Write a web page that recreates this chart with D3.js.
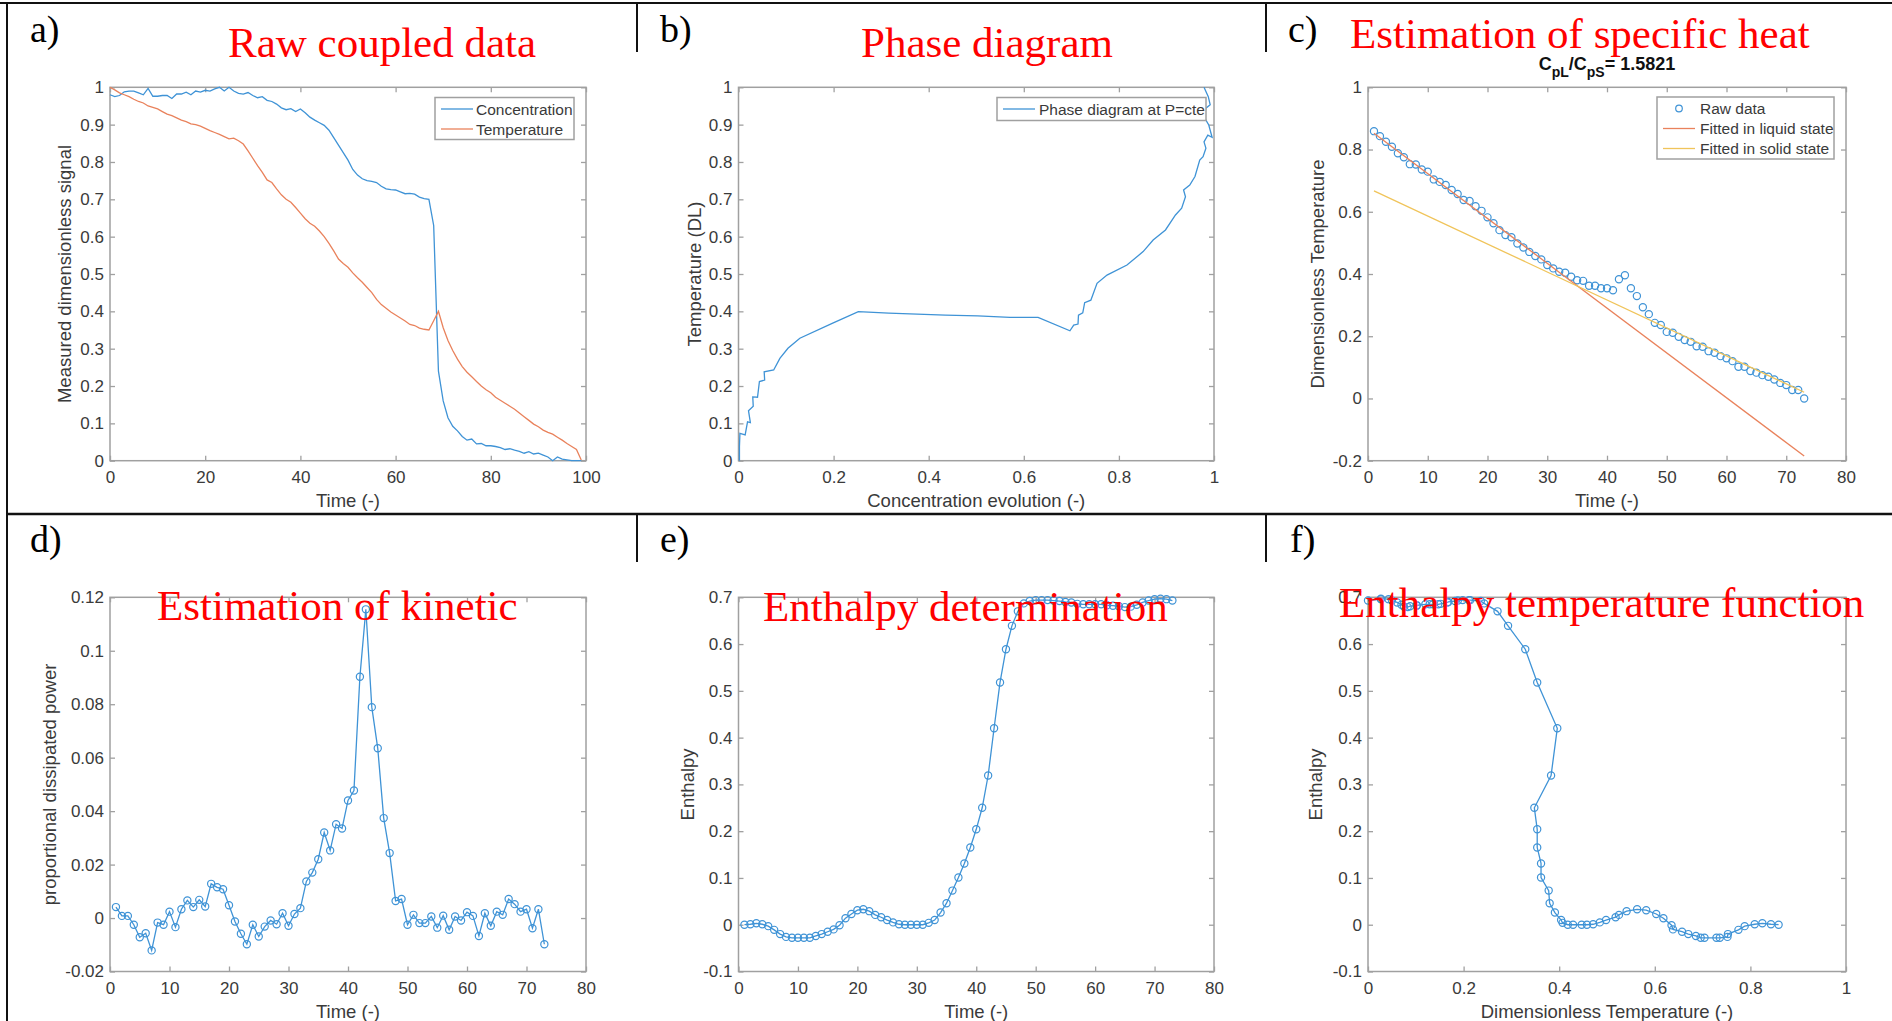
<!DOCTYPE html>
<html><head><meta charset="utf-8">
<script src="https://cdn.jsdelivr.net/npm/d3@7"></script>
<style>body{margin:0;background:#fff}svg{display:block}</style>
</head><body><svg id="chart" width="1892" height="1021"></svg>
<script>
// ---------- DATA ----------
const timeA = [0,1,2,3,4,5,6,7,8,9,10,11,12,13,14,15,16,17,18,19,20,21,22,23,24,25,26,27,28,29,30,31,32,33,34,35,36,37,38,39,40,41,42,43,44,45,46,47,48,49,50,51,52,53,54,55,56,57,58,59,60,61,62,63,64,65,66,67,68,69,70,71,72,73,74,75,76,77,78,79,80,81,82,83,84,85,86,87,88,89,90,91,92,93,94,95,96,97,98,99];
const concentration = [0.980,0.975,0.978,0.988,0.990,0.990,0.985,0.980,0.997,0.976,
 0.976,0.978,0.978,0.970,0.982,0.982,0.987,0.980,0.990,0.987,
 0.992,0.990,0.996,1.000,0.990,1.000,0.990,0.984,0.982,0.986,
 0.978,0.972,0.975,0.965,0.962,0.955,0.945,0.940,0.943,0.935,
 0.942,0.932,0.920,0.912,0.905,0.898,0.885,0.865,0.845,0.825,
 0.805,0.780,0.765,0.755,0.750,0.748,0.745,0.735,0.728,0.726,
 0.725,0.720,0.715,0.716,0.714,0.706,0.702,0.700,0.630,0.240,
 0.160,0.115,0.092,0.080,0.065,0.055,0.058,0.045,0.046,0.040,
 0.040,0.038,0.035,0.030,0.032,0.028,0.025,0.020,0.024,0.018,
 0.020,0.015,0.010,0.000,0.010,0.004,0.002,0.000,0.000,0.000];
const temperature = [1.000,0.993,0.985,0.980,0.975,0.968,0.962,0.958,0.950,0.946,
 0.942,0.935,0.928,0.924,0.918,0.912,0.908,0.902,0.900,0.896,
 0.890,0.884,0.879,0.874,0.868,0.862,0.864,0.857,0.848,0.830,
 0.810,0.790,0.772,0.752,0.745,0.728,0.712,0.700,0.692,0.678,
 0.663,0.648,0.636,0.628,0.615,0.600,0.582,0.562,0.540,0.528,
 0.518,0.503,0.490,0.478,0.464,0.450,0.432,0.418,0.408,0.398,
 0.390,0.382,0.374,0.365,0.362,0.355,0.352,0.350,0.375,0.400,
 0.356,0.322,0.295,0.272,0.252,0.237,0.225,0.212,0.200,0.190,
 0.182,0.170,0.162,0.154,0.146,0.138,0.128,0.118,0.108,0.098,
 0.091,0.082,0.076,0.071,0.063,0.055,0.046,0.038,0.030,0.002];

const phaseConc = [0.002,0.002,0.003,0.014,0.019,0.025,0.021,0.031,0.030,0.040,0.044,0.055,0.054,0.074,0.087,0.104,0.129,0.197,0.252,0.316,0.435,0.503,0.571,0.630,0.697,0.705,0.714,0.715,0.724,0.728,0.741,0.754,0.775,0.817,0.851,0.872,0.898,0.919,0.932,0.940,0.936,0.949,0.960,0.970,0.977,0.983,0.979,0.987,0.996,0.989,0.979,0.983,0.992,0.988,0.979];
const phaseTemp = [0,0.0375,0.073,0.069,0.104,0.102,0.134,0.146,0.171,0.170,0.212,0.216,0.238,0.243,0.274,0.301,0.328,0.368,0.399,0.395,0.390,0.388,0.384,0.384,0.348,0.363,0.366,0.390,0.396,0.423,0.430,0.475,0.497,0.524,0.560,0.591,0.618,0.658,0.676,0.707,0.725,0.738,0.761,0.805,0.814,0.837,0.854,0.872,0.866,0.899,0.921,0.944,0.953,0.975,1.0];

const timeS = [1,2,3,4,5,6,7,8,9,10,11,12,13,14,15,16,17,18,19,20,21,22,23,24,25,26,27,28,29,30,31,32,33,34,35,36,37,38,39,40,41,42,43,44,45,46,47,48,49,50,51,52,53,54,55,56,57,58,59,60,61,62,63,64,65,66,67,68,69,70,71,72,73];
const rawTemp = [0.859,0.843,0.825,0.809,0.788,0.775,0.753,0.752,0.736,0.729,
 0.704,0.696,0.686,0.670,0.657,0.638,0.635,0.618,0.603,0.582,
 0.563,0.541,0.525,0.518,0.498,0.485,0.471,0.458,0.447,0.429,
 0.418,0.407,0.404,0.391,0.380,0.378,0.362,0.362,0.354,0.354,
 0.348,0.383,0.396,0.354,0.329,0.293,0.271,0.243,0.236,0.214,
 0.211,0.198,0.188,0.182,0.168,0.166,0.152,0.147,0.136,0.129,
 0.120,0.102,0.102,0.088,0.083,0.075,0.070,0.061,0.050,0.043,
 0.027,0.027,0.000];
const fitTime = [1, 73];
const fitLiquid = [0.852, -0.185];
const fitSolid = [0.667, 0.020];
const cpRatio = "1.5821";

const dissipatedPower = [0.0041,0.0008,0.0008,-0.0025,-0.0072,-0.0057,-0.0121,-0.0017,-0.0025,0.0024,
 -0.0034,0.0033,0.0066,0.0041,0.0068,0.0043,0.0128,0.0115,0.0108,0.0048,
 -0.0013,-0.0059,-0.0098,-0.0025,-0.0069,-0.0032,-0.0009,-0.0023,0.0018,-0.0029,
 0.0015,0.0037,0.0137,0.0170,0.0220,0.0320,0.0253,0.0351,0.0335,0.0440,
 0.0477,0.0903,0.1155,0.0789,0.0635,0.0374,0.0243,0.0064,0.0071,-0.0025,
 0.0012,-0.0019,-0.0019,0.0006,-0.0036,0.0009,-0.0044,0.0006,-0.0009,0.0022,
 0.0008,-0.0067,0.0018,-0.0029,0.0024,0.0012,0.0071,0.0052,0.0024,0.0033,
 -0.0038,0.0033,-0.0098];

const enthalpy = [0.000,0.001,0.003,0.001,-0.003,-0.011,-0.020,-0.026,-0.028,-0.028,
 -0.028,-0.028,-0.024,-0.020,-0.015,-0.010,-0.001,0.014,0.023,0.031,
 0.033,0.029,0.021,0.016,0.010,0.005,0.001,0.000,0.000,0.000,
 0.000,0.004,0.010,0.026,0.046,0.073,0.101,0.131,0.165,0.204,
 0.250,0.319,0.420,0.518,0.589,0.639,0.670,0.687,0.692,0.694,
 0.694,0.694,0.693,0.692,0.690,0.689,0.686,0.685,0.685,0.685,
 0.685,0.683,0.682,0.681,0.679,0.680,0.684,0.689,0.693,0.696,
 0.697,0.696,0.693];

// tick values & labels
const ticks0to100 = [0,20,40,60,80,100];
const ticks0to80 = [0,10,20,30,40,50,60,70,80];
const ticks0to1 = [0,0.2,0.4,0.6,0.8,1];
const ticks0to1fine = [0,0.1,0.2,0.3,0.4,0.5,0.6,0.7,0.8,0.9,1];
const ticksC = [-0.2,0,0.2,0.4,0.6,0.8,1];
const ticksD = [-0.02,0,0.02,0.04,0.06,0.08,0.1,0.12];
const ticksE = [-0.1,0,0.1,0.2,0.3,0.4,0.5,0.6,0.7];
const labels0to100 = ["0","20","40","60","80","100"];
const labels0to80 = ["0","10","20","30","40","50","60","70","80"];
const labels0to1 = ["0","0.2","0.4","0.6","0.8","1"];
const labels0to1fine = ["0","0.1","0.2","0.3","0.4","0.5","0.6","0.7","0.8","0.9","1"];
const labelsC = ["-0.2","0","0.2","0.4","0.6","0.8","1"];
const labelsD = ["-0.02","0","0.02","0.04","0.06","0.08","0.1","0.12"];
const labelsE = ["-0.1","0","0.1","0.2","0.3","0.4","0.5","0.6","0.7"];

// ---------- DRAW ----------
const svg = d3.select('#chart');
const BLUE = '#3f93d6', ORANGE = '#e9825c', YELLOW = '#f0c45a';
const AXIS = '#a0a0a0', TXT = '#3a3a3a';
const SANS = 'Liberation Sans, Arial, Helvetica, sans-serif';
const SERIF = 'Liberation Serif, Times New Roman, serif';
const TICK_FS = 17, LABEL_FS = 18.5;

function styleAxis(g, showLabels) {
  g.select('.domain').remove();
  g.attr('font-family', SANS).attr('font-size', TICK_FS);
  g.selectAll('.tick line').attr('stroke', AXIS).attr('stroke-width', 1.3);
  g.selectAll('.tick text').attr('fill', TXT);
  if (!showLabels) g.selectAll('.tick text').remove();
}

function panel(o) {
  const x = d3.scaleLinear().domain(o.xd).range([o.x0, o.x1]);
  const y = d3.scaleLinear().domain(o.yd).range([o.y1, o.y0]);
  const g = svg.append('g');
  g.append('rect').attr('x', o.x0).attr('y', o.y0).attr('width', o.x1 - o.x0).attr('height', o.y1 - o.y0)
    .attr('fill', '#fff').attr('stroke', AXIS).attr('stroke-width', 1.5);
  g.append('g').attr('transform', `translate(0,${o.y1})`)
    .call(d3.axisBottom(x).tickValues(o.xt).tickFormat((d, i) => o.xl[i]).tickSizeInner(-5).tickSizeOuter(0).tickPadding(10))
    .call(s => styleAxis(s, true));
  g.append('g').attr('transform', `translate(0,${o.y0})`)
    .call(d3.axisTop(x).tickValues(o.xt).tickSizeInner(-5).tickSizeOuter(0))
    .call(s => styleAxis(s, false));
  g.append('g').attr('transform', `translate(${o.x0},0)`)
    .call(d3.axisLeft(y).tickValues(o.yt).tickFormat((d, i) => o.yl[i]).tickSizeInner(-5).tickSizeOuter(0).tickPadding(6))
    .call(s => styleAxis(s, true));
  g.append('g').attr('transform', `translate(${o.x1},0)`)
    .call(d3.axisRight(y).tickValues(o.yt).tickSizeInner(-5).tickSizeOuter(0))
    .call(s => styleAxis(s, false));
  // axis labels
  g.append('text').attr('x', (o.x0 + o.x1) / 2).attr('y', o.y1 + 46)
    .attr('text-anchor', 'middle').attr('font-family', SANS).attr('font-size', LABEL_FS).attr('fill', TXT).text(o.xlab);
  g.append('text').attr('transform', `translate(${o.x0 - o.ylOff},${(o.y0 + o.y1) / 2}) rotate(-90)`)
    .attr('text-anchor', 'middle').attr('font-family', SANS).attr('font-size', LABEL_FS).attr('fill', TXT).text(o.ylab);
  return {x, y, g};
}

function lineSeries(p, xs, ys, color) {
  const pts = xs.map((v, i) => [v, ys[i]]);
  p.g.append('path').datum(pts)
    .attr('d', d3.line().x(d => p.x(d[0])).y(d => p.y(d[1])))
    .attr('fill', 'none').attr('stroke', color).attr('stroke-width', 1.3);
}
function circleSeries(p, xs, ys, color) {
  const pts = xs.map((v, i) => [v, ys[i]]);
  p.g.append('g').selectAll('circle').data(pts).join('circle')
    .attr('cx', d => p.x(d[0])).attr('cy', d => p.y(d[1])).attr('r', 3.6)
    .attr('fill', 'none').attr('stroke', color).attr('stroke-width', 1.2);
}

const TOP = [87.3, 460.7], BOT = [597.3, 971.5];
const COL = [[110, 586], [738.5, 1214], [1368, 1846]];

// a)
const pa = panel({x0: COL[0][0], x1: COL[0][1], y0: TOP[0], y1: TOP[1], xd: [0, 100], yd: [0, 1],
  xt: ticks0to100, xl: labels0to100, yt: ticks0to1fine, yl: labels0to1fine,
  xlab: 'Time (-)', ylab: 'Measured dimensionless signal', ylOff: 39});
lineSeries(pa, timeA, concentration, BLUE);
lineSeries(pa, timeA, temperature, ORANGE);

// b)
const pb = panel({x0: COL[1][0], x1: COL[1][1], y0: TOP[0], y1: TOP[1], xd: [0, 1], yd: [0, 1],
  xt: ticks0to1, xl: labels0to1, yt: ticks0to1fine, yl: labels0to1fine,
  xlab: 'Concentration evolution (-)', ylab: 'Temperature (DL)', ylOff: 38});
lineSeries(pb, phaseConc, phaseTemp, BLUE);

// c)
const pc = panel({x0: COL[2][0], x1: COL[2][1], y0: TOP[0], y1: TOP[1], xd: [0, 80], yd: [-0.2, 1],
  xt: ticks0to80, xl: labels0to80, yt: ticksC, yl: labelsC,
  xlab: 'Time (-)', ylab: 'Dimensionless Temperature', ylOff: 44});
circleSeries(pc, timeS, rawTemp, BLUE);
lineSeries(pc, fitTime, fitLiquid, ORANGE);
lineSeries(pc, fitTime, fitSolid, YELLOW);

// d)
const pd = panel({x0: COL[0][0], x1: COL[0][1], y0: BOT[0], y1: BOT[1], xd: [0, 80], yd: [-0.02, 0.12],
  xt: ticks0to80, xl: labels0to80, yt: ticksD, yl: labelsD,
  xlab: 'Time (-)', ylab: 'proportional dissipated power', ylOff: 54});
lineSeries(pd, timeS, dissipatedPower, BLUE);
circleSeries(pd, timeS, dissipatedPower, BLUE);

// e)
const pe = panel({x0: COL[1][0], x1: COL[1][1], y0: BOT[0], y1: BOT[1], xd: [0, 80], yd: [-0.1, 0.7],
  xt: ticks0to80, xl: labels0to80, yt: ticksE, yl: labelsE,
  xlab: 'Time (-)', ylab: 'Enthalpy', ylOff: 45});
lineSeries(pe, timeS, enthalpy, BLUE);
circleSeries(pe, timeS, enthalpy, BLUE);

// f)
const pf = panel({x0: COL[2][0], x1: COL[2][1], y0: BOT[0], y1: BOT[1], xd: [0, 1], yd: [-0.1, 0.7],
  xt: ticks0to1, xl: labels0to1, yt: ticksE, yl: labelsE,
  xlab: 'Dimensionless Temperature (-)', ylab: 'Enthalpy', ylOff: 46});
lineSeries(pf, rawTemp, enthalpy, BLUE);
circleSeries(pf, rawTemp, enthalpy, BLUE);

// ---------- legends ----------
function legend(x, y, w, h, items) {
  const g = svg.append('g');
  g.append('rect').attr('x', x).attr('y', y).attr('width', w).attr('height', h)
    .attr('fill', '#fff').attr('stroke', AXIS).attr('stroke-width', 1.5);
  items.forEach((it, i) => {
    const cy = y + 11.5 + i * 20;
    if (it.type === 'line') {
      g.append('line').attr('x1', x + it.lx0).attr('x2', x + it.lx1).attr('y1', cy).attr('y2', cy)
        .attr('stroke', it.color).attr('stroke-width', 1.3);
    } else {
      g.append('circle').attr('cx', x + (it.lx0 + it.lx1) / 2).attr('cy', cy).attr('r', 3.3)
        .attr('fill', 'none').attr('stroke', it.color).attr('stroke-width', 1.2);
    }
    g.append('text').attr('x', x + it.tx).attr('y', cy + 5.5).attr('font-family', SANS)
      .attr('font-size', 15.5).attr('fill', TXT).text(it.label);
  });
}
legend(435, 97.5, 139, 42, [
  {type: 'line', color: BLUE, lx0: 6, lx1: 38, tx: 41, label: 'Concentration'},
  {type: 'line', color: ORANGE, lx0: 6, lx1: 38, tx: 41, label: 'Temperature'}]);
legend(997, 97.5, 209, 23, [
  {type: 'line', color: BLUE, lx0: 6, lx1: 38, tx: 42, label: 'Phase diagram at P=cte'}]);
legend(1657, 97, 177, 62, [
  {type: 'marker', color: BLUE, lx0: 6, lx1: 38, tx: 43, label: 'Raw data'},
  {type: 'line', color: ORANGE, lx0: 6, lx1: 38, tx: 43, label: 'Fitted in liquid state'},
  {type: 'line', color: YELLOW, lx0: 6, lx1: 38, tx: 43, label: 'Fitted in solid state'}]);

// c subtitle
const st = svg.append('text').attr('x', (COL[2][0] + COL[2][1]) / 2).attr('y', 70).attr('text-anchor', 'middle')
  .attr('font-family', SANS).attr('font-size', 18).attr('font-weight', 'bold').attr('fill', '#111');
st.append('tspan').text('C');
st.append('tspan').attr('font-size', 14).attr('dy', 7).text('pL');
st.append('tspan').attr('dy', -7).text('/C');
st.append('tspan').attr('font-size', 14).attr('dy', 7).text('pS');
st.append('tspan').attr('dy', -7).text('= ' + cpRatio);

// ---------- frame ----------
const frame = svg.append('g').attr('stroke', '#111').attr('stroke-width', 2);
frame.append('line').attr('x1', 0).attr('x2', 1892).attr('y1', 3).attr('y2', 3);
frame.append('line').attr('x1', 7).attr('x2', 7).attr('y1', 3).attr('y2', 1021);
frame.append('line').attr('x1', 7).attr('x2', 1892).attr('y1', 514).attr('y2', 514).attr('stroke-width', 2.5);
[[637, 3, 52], [1266, 3, 52], [637, 514, 562], [1266, 514, 562]].forEach(s => {
  frame.append('line').attr('x1', s[0]).attr('x2', s[0]).attr('y1', s[1]).attr('y2', s[2]);
});

// ---------- panel letters & red titles ----------
const letters = [['a)', 30, 42], ['b)', 660, 42], ['c)', 1288, 42], ['d)', 30, 552], ['e)', 660, 552], ['f)', 1290, 552]];
letters.forEach(l => svg.append('text').attr('x', l[1]).attr('y', l[2]).attr('font-family', SERIF)
  .attr('font-size', 38).attr('fill', '#000').text(l[0]));
const titles = [['Raw coupled data', 228, 57], ['Phase diagram', 861, 57], ['Estimation of specific heat', 1350, 48],
  ['Estimation of kinetic', 157, 620], ['Enthalpy determination', 763, 621], ['Enthalpy temperature function', 1339, 617]];
titles.forEach(t => svg.append('text').attr('x', t[1]).attr('y', t[2]).attr('font-family', SERIF)
  .attr('font-size', 43).attr('fill', '#ff0000').text(t[0]));
</script></body></html>
